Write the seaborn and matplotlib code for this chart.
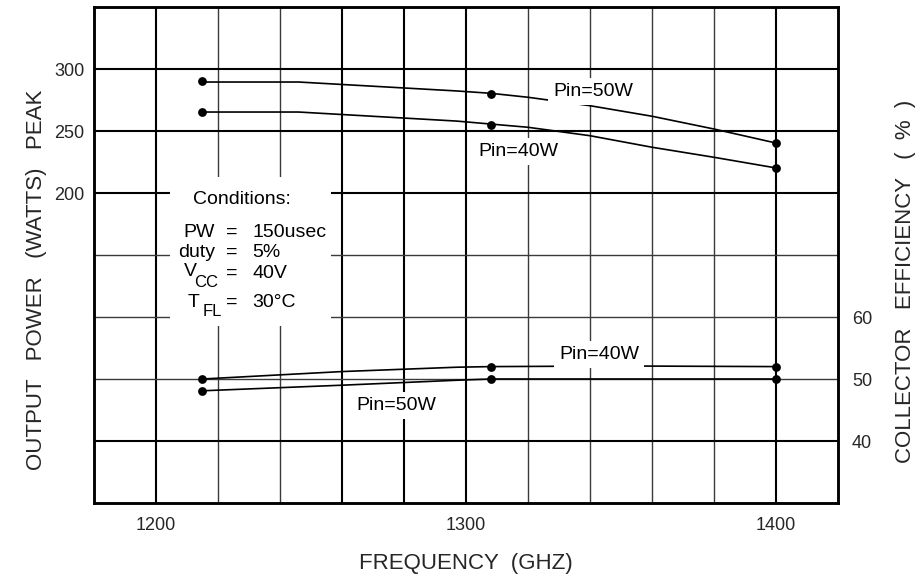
#!/usr/bin/env python3
"""Output power and collector efficiency vs. frequency (datasheet curve sheet)."""

import matplotlib

matplotlib.use("Agg")
import matplotlib.pyplot as plt
import seaborn as sns
from matplotlib.patches import Rectangle

# Measured points (dots on the sheet)
FREQ = [1215, 1308, 1400]
POWER_50W = [290, 280, 240]
POWER_40W = [265, 255, 220]
EFF_40W = [50, 52, 52]
EFF_50W = [48, 50, 50]

# Drawn curves
TRACE_FREQ_POWER = [1215, 1246, 1297, 1308, 1320, 1340, 1360, 1380, 1400]
TRACE_POWER_50W = [289.5, 289.5, 282.3, 280.4, 277.2, 270.4, 261.9, 251.6, 240.3]
TRACE_POWER_40W = [265.3, 265.3, 258.0, 255.6, 253.0, 246.2, 236.9, 228.8, 220.2]
TRACE_FREQ_EFF = [1215, 1260, 1297, 1308, 1350, 1400]
TRACE_EFF_40W = [50.0, 51.2, 51.9, 52.0, 52.1, 52.0]
TRACE_EFF_50W = [48.1, 49.0, 49.8, 50.0, 50.0, 50.0]

X_TICKS = [1200, 1300, 1400]
POWER_TICKS = [200, 250, 300]
EFF_TICKS = [40, 50, 60]

CONDITIONS = [("PW", "150usec"), ("duty", "5%"), ("V", "40V"), ("T", "30°C")]

INK = "black"


def draw_grid(ax):
    heavy_x = {1200, 1260, 1280, 1300, 1400}
    for x in range(1200, 1420, 20):
        lw, col = (1.5, INK) if x in heavy_x else (1.0, "#3a3a3a")
        ax.axvline(x, color=col, lw=lw, zorder=1)
    heavy_y = {300, 250, 200, 0}
    for y in range(0, 350, 50):
        lw, col = (1.5, INK) if y in heavy_y else (1.0, "#3a3a3a")
        ax.axhline(y, color=col, lw=lw, zorder=1)


def label(ax, x, y, s, size=14, ha="center", va="baseline", box=True):
    kw = dict(fontsize=size, ha=ha, va=va, color=INK, zorder=4)
    if box:
        kw["bbox"] = dict(facecolor="white", edgecolor="none", pad=3.5)
    ax.text(x, y, s, **kw)


def main():
    sns.set_style("white")
    plt.rcParams["font.family"] = ["Liberation Sans", "DejaVu Sans"]

    fig = plt.figure(figsize=(9.22, 5.78), dpi=100)
    ax = fig.add_axes([94 / 922, 1 - 503 / 578, 744 / 922, 496 / 578])
    ax2 = ax.twinx()

    ax.set_xlim(1180, 1420)
    ax.set_ylim(-50, 350)
    ax2.set_ylim(30, 110)

    draw_grid(ax)

    # power curves
    for trace, pts in [(TRACE_POWER_50W, POWER_50W), (TRACE_POWER_40W, POWER_40W)]:
        sns.lineplot(x=TRACE_FREQ_POWER, y=trace, color=INK, lw=1.2,
                     sort=False, estimator=None, ax=ax, zorder=3)
        sns.scatterplot(x=FREQ, y=pts, color=INK, s=40, edgecolor=INK,
                        linewidth=0, ax=ax, zorder=5)

    # efficiency curves
    for trace, pts in [(TRACE_EFF_40W, EFF_40W), (TRACE_EFF_50W, EFF_50W)]:
        sns.lineplot(x=TRACE_FREQ_EFF, y=trace, color=INK, lw=1.2,
                     sort=False, estimator=None, ax=ax2, zorder=3)
        sns.scatterplot(x=FREQ, y=pts, color=INK, s=40, edgecolor=INK,
                        linewidth=0, ax=ax2, zorder=5)

    # conditions block
    ax.add_patch(Rectangle((1204.5, 92.7), 52, 120.2, facecolor="white",
                           edgecolor="none", zorder=2))
    label(ax, 1227.6, 191.1, "Conditions:", box=False)
    baselines = [164.5, 148.4, 131.5, 108.1]
    for (name, value), yb in zip(CONDITIONS, baselines):
        label(ax, 1224.5, yb, "=", ha="center", box=False)
        label(ax, 1231.0, yb, value, ha="left", box=False)
        if name in ("PW", "duty"):
            label(ax, 1219.0, yb, name, ha="right", box=False)
    label(ax, 1209.0, 133.1, "V", ha="left", box=False)
    label(ax, 1212.2, 124.2, "CC", size=12, ha="left", box=False)
    label(ax, 1210.2, 108.1, "T", ha="left", box=False)
    label(ax, 1214.9, 100.8, "FL", size=12, ha="left", box=False)

    # curve labels
    label(ax, 1341.0, 278.2, "Pin=50W")
    label(ax, 1316.8, 229.8, "Pin=40W")
    label(ax2, 1342.9, 53.2, "Pin=40W")
    label(ax2, 1277.4, 45.0, "Pin=50W")

    ax.set_xticks(X_TICKS)
    ax.set_yticks(POWER_TICKS)
    ax2.set_yticks(EFF_TICKS)
    ax.tick_params(axis="x", length=0, pad=10, labelsize=13)
    ax.tick_params(axis="y", length=0, pad=7, labelsize=13)
    ax2.tick_params(axis="y", length=0, pad=10, labelsize=13)

    for a in (ax, ax2):
        for sp in a.spines.values():
            sp.set_color(INK)
            sp.set_linewidth(1.8)

    ax.set_xlabel("FREQUENCY  (GHZ)", fontsize=16)
    ax.set_ylabel("OUTPUT   POWER   (WATTS)   PEAK", fontsize=16)
    ax2.set_ylabel("COLLECTOR   EFFICIENCY   (  %  )", fontsize=16, rotation=90)
    ax.xaxis.set_label_coords(0.5, -0.1)
    ax.yaxis.set_label_coords(-0.063, 0.45)
    ax2.yaxis.set_label_coords(1.076, 0.446)

    fig.savefig("out.png", dpi=100)
    plt.close(fig)


if __name__ == "__main__":
    main()
